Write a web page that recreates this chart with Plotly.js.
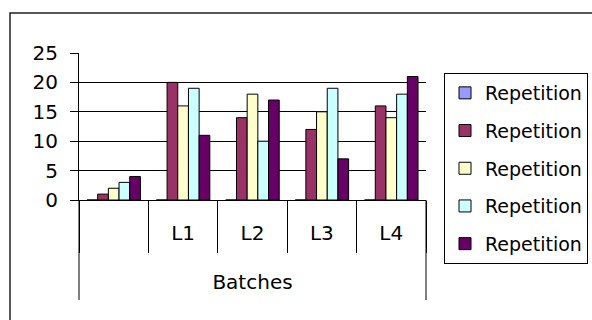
<!DOCTYPE html>
<html><head><meta charset="utf-8">
<script src="https://cdn.plot.ly/plotly-3.0.1.min.js"></script>
<style>html,body{margin:0;padding:0;background:#fff;}#chart{width:592px;height:320px;}</style>
</head><body><div id="chart"></div>
<script>
// ---- data ----
const categories = [" ", "L1", "L2", "L3", "L4"];
const seriesNames = ["Repetition", "Repetition", "Repetition", "Repetition", "Repetition"];
const rep1 = [0, 0, 0, 0, 0];
const rep2 = [1, 20, 14, 12, 16];
const rep3 = [2, 16, 18, 15, 14];
const rep4 = [3, 19, 10, 19, 18];
const rep5 = [4, 11, 17, 7, 21];
const yTickVals = [0, 5, 10, 15, 20, 25];
const xTitle = "Batches";

// ---- style ----
const colors = ["#9999FF", "#993366", "#FFFFCC", "#CCFFFF", "#660066"];
const FONT = "DejaVu Sans, Arial, sans-serif";
const W = 592, H = 320;
const M = {l: 79, r: 166, t: 53, b: 120};
const plotW = W - M.l - M.r, plotH = H - M.t - M.b;
const px2x = p => (p - M.l) / plotW;
const px2y = p => (H - M.b - p) / plotH;

const series = [rep1, rep2, rep3, rep4, rep5];
const traces = series.map((vals, i) => ({
  type: "bar",
  x: categories,
  y: vals,
  name: seriesNames[i],
  legendgroup: "g" + i,
  marker: {color: colors[i], line: {color: "#000", width: 1}},
  hoverinfo: "skip"
}));

const layout = {
  width: W, height: H,
  margin: M,
  paper_bgcolor: "#fff", plot_bgcolor: "#fff",
  font: {family: FONT, size: 20, color: "#000"},
  barmode: "group",
  bargap: 0.23, bargroupgap: 0,
  showlegend: true,
  legend: {
    xref: "container", yref: "container",
    x: 444 / W, y: 1 - 73 / H, xanchor: "left", yanchor: "top",
    maxheight: 260,
    bordercolor: "#000", borderwidth: 1, bgcolor: "#fff",
    font: {family: FONT, size: 19, color: "#000"},
    tracegroupgap: 10
  },
  xaxis: {
    type: "category",
    showline: true, linecolor: "#000", linewidth: 1,
    ticks: "outside", tickson: "boundaries", ticklen: 52, tickcolor: "#000", tickwidth: 1,
    ticklabelstandoff: 15,
    showgrid: false, zeroline: false,
    tickfont: {family: FONT, size: 20, color: "#000"},
    title: {text: xTitle, font: {family: FONT, size: 20, color: "#000"}, standoff: 30}
  },
  yaxis: {
    range: [0, 25], tickvals: yTickVals,
    showline: true, linecolor: "#000", linewidth: 1,
    ticks: "outside", ticklen: 8, tickcolor: "#000", tickwidth: 1,
    ticklabelstandoff: 8,
    showgrid: true, gridcolor: "#000", gridwidth: 1,
    zeroline: false,
    tickfont: {family: FONT, size: 20, color: "#000"}
  },
  shapes: [
    {type: "rect", xref: "paper", yref: "paper",
     x0: px2x(10), x1: px2x(640), y0: px2y(13), y1: px2y(360),
     line: {color: "#222", width: 1.5}, fillcolor: "rgba(0,0,0,0)", layer: "below"},
    {type: "line", xref: "paper", yref: "paper", x0: 0, x1: 0, y0: 0, y1: px2y(300),
     line: {color: "#000", width: 1}},
    {type: "line", xref: "paper", yref: "paper", x0: 1, x1: 1, y0: 0, y1: px2y(300),
     line: {color: "#000", width: 1}}
  ]
};

Plotly.newPlot("chart", traces, layout, {displayModeBar: false, staticPlot: true});
</script>
</body></html>
